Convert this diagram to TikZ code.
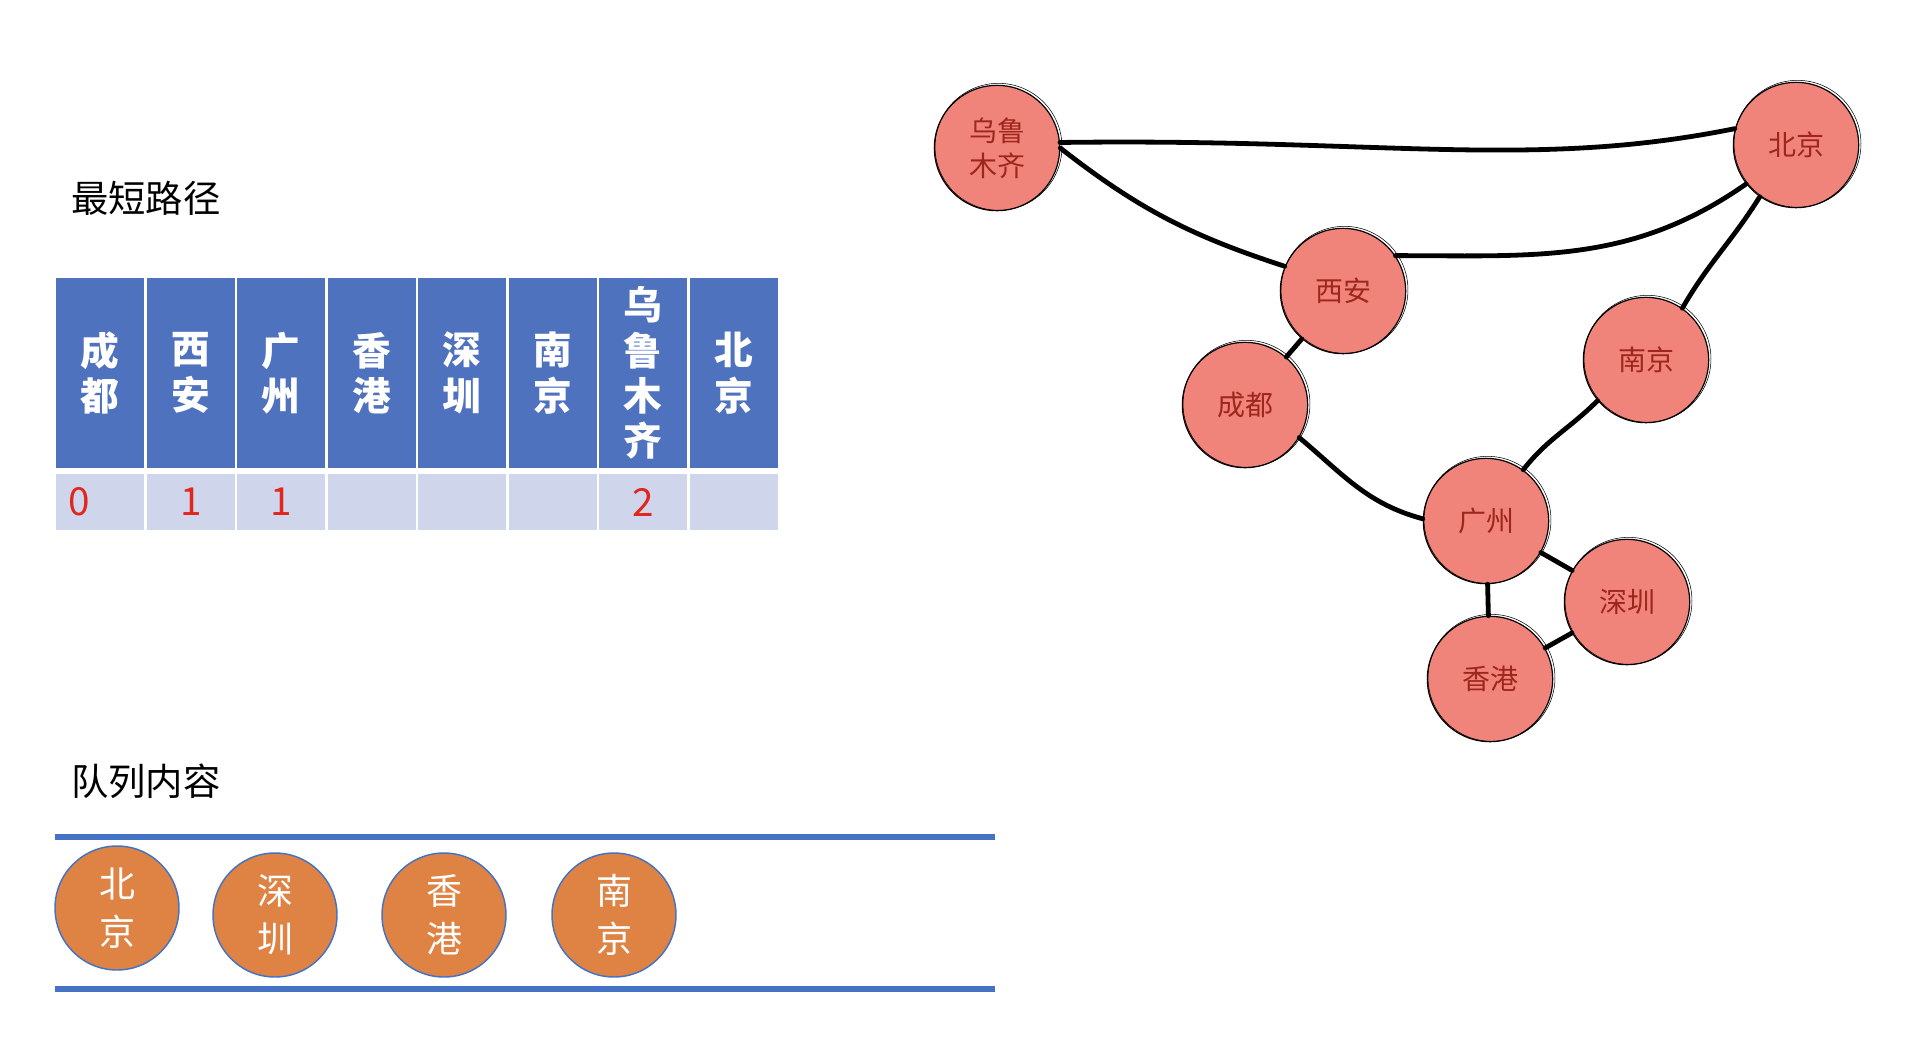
\documentclass[tikz,border=0pt]{standalone}
\usepackage{fontspec}
\setmainfont{Noto Sans CJK SC}
\usepackage{tikz}
\usetikzlibrary{calc}
\usetikzlibrary{positioning}
\definecolor{headblue}{RGB}{79,114,190}
\definecolor{cellgray}{RGB}{207,213,234}
\definecolor{numred}{RGB}{226,38,30}
\definecolor{citypink}{RGB}{240,132,122}
\definecolor{cityred}{RGB}{158,38,28}
\definecolor{qorange}{RGB}{223,131,68}
\definecolor{qblue}{RGB}{68,114,196}
\tikzset{city/.style = {shape=circle,draw,line width=0.9pt,fill=citypink,minimum size=94pt,inner sep=0pt,text=cityred,align=center,font=\fontsize{21pt}{26pt}\selectfont}}
\tikzset{sketch/.style = {line width=0.4pt}}
\tikzset{road/.style = {line width=3.6pt,line cap=round}}
\tikzset{head/.style = {shape=rectangle,fill=headblue,minimum width=66.3pt,minimum height=142.5pt,inner sep=0pt,text=white,align=center,font=\bfseries\fontsize{29pt}{34pt}\selectfont}}
\tikzset{cell/.style = {shape=rectangle,fill=cellgray,minimum width=66.3pt,minimum height=42pt,inner sep=0pt}}
\tikzset{num/.style = {text=numred,inner sep=0pt,font=\fontsize{29pt}{34pt}\selectfont}}
\tikzset{caption/.style = {anchor=west,inner sep=0pt,font=\fontsize{28pt}{34pt}\selectfont}}
\tikzset{queued/.style = {shape=circle,draw=qblue,line width=1.1pt,fill=qorange,minimum size=93pt,inner sep=0pt,text=white,align=center,font=\fontsize{27pt}{36pt}\selectfont}}
\tikzset{bar/.style = {draw=qblue,line width=4pt}}

\begin{document}
\begin{tikzpicture}[x=0.75pt,y=0.75pt]
    \useasboundingbox (0,0) rectangle (1914,-1036);

    % table of shortest paths
    \node[caption] (title) at (71,-198) {最短路径};
    \foreach \name [count=\i] in {成\\都,西\\安,广\\州,香\\港,深\\圳,南\\京,乌\\鲁\\木\\齐,北\\京}
        \node[head] (h\i) at ({55+90.5*(\i-0.5)},-373) {\name};
    \foreach \i in {1,...,8}
        \node[cell] (v\i) at ({55+90.5*(\i-0.5)},-502) {};
    \node[num, right=9pt of v1.west] (n1) {0};
    \node[num] (n2) at (v2) {1};
    \node[num] (n3) at (v3) {1};
    \node[num] (n7) at (v7) {2};

    % queue
    \node[caption] (qtitle) at (71,-781) {队列内容};
    \draw[bar] (55,-837) -- (995,-837);
    \draw[bar] (55,-989) -- (995,-989);
    \foreach \name/\x/\y [count=\i] in {北\\京/117/908,深\\圳/275/915,香\\港/444/915,南\\京/614/915}
        \node[queued] (q\i) at (\x,-\y) {\name};

    % graph
    \node[city] (wl) at (997,-148) {乌鲁\\木齐};
    \node[city] (bj) at (1796,-145) {北京};
    \node[city] (xa) at (1343,-291) {西安};
    \node[city] (nj) at (1646,-360) {南京};
    \node[city] (cd) at (1245,-405) {成都};
    \node[city] (gz) at (1486,-521) {广州};
    \node[city] (sz) at (1627,-602) {深圳};
    \node[city] (xg) at (1490,-679) {香港};
    \foreach \c in {wl,bj,xa,nj,cd,gz,sz,xg}
        \draw[sketch] ($(\c.center)+(1.5,1.2)$) circle (47.6pt);

    \draw[road] (wl.5) .. controls (1380,-138) and (1530,-170) .. (bj.165);
    \draw[road] (wl.0) to[out=-38,in=162] (xa.157);
    \draw[road] (xa.34) to[out=0,in=215] (bj.218);
    \draw[road] (bj.235) to[out=-122,in=60] (nj.55);
    \draw[road] (xa) -- (cd);
    \draw[road] (cd.-31) to[out=-40,in=165] (gz.178);
    \draw[road] (nj.220) to[out=-135,in=52] (gz.54);
    \draw[road] (gz) -- (sz);
    \draw[road] (gz) -- (xg);
    \draw[road] (xg) -- (sz);
\end{tikzpicture}
\end{document}
